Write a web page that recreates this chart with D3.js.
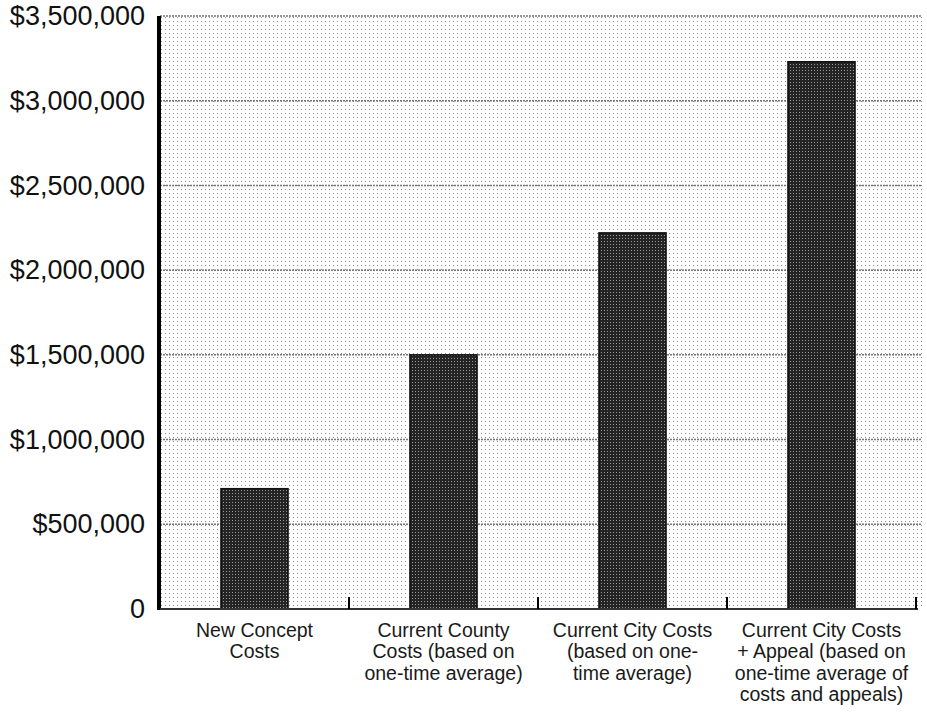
<!DOCTYPE html>
<html>
<head>
<meta charset="utf-8">
<script src="https://cdn.jsdelivr.net/npm/d3@7"></script>
<style>
    html, body { margin: 0; padding: 0; background: #fff; }
    svg { display: block; }
    .ylab { font-family: "Liberation Sans", Arial, sans-serif; font-size: 27px; fill: #111; }
    .xlab { font-family: "Liberation Sans", Arial, sans-serif; font-size: 19.5px; fill: #1a1a1a; }
</style>
</head>
<body>
<div id="chart"></div>
<script>
// Chart data
const categories = [
    'New Concept\nCosts',
    'Current County\nCosts (based on\none-time average)',
    'Current City Costs\n(based on one-\ntime average)',
    'Current City Costs\n+ Appeal (based on\none-time average of\ncosts and appeals)'
];
const costs = [710000, 1500000, 2220000, 3230000];
const yTicks = [0, 500000, 1000000, 1500000, 2000000, 2500000, 3000000, 3500000];
const yTickLabels = ['0', '$500,000', '$1,000,000', '$1,500,000', '$2,000,000', '$2,500,000', '$3,000,000', '$3,500,000'];

const width = 927;
const height = 717;
const plot = { left: 160, right: 916, top: 16, bottom: 609 };

const svg = d3.select('#chart').append('svg')
    .attr('width', width)
    .attr('height', height);

// halftone-ish screens for the scanned look
const defs = svg.append('defs');
const bgPat = defs.append('pattern')
    .attr('id', 'screen')
    .attr('patternUnits', 'userSpaceOnUse')
    .attr('width', 4).attr('height', 4);
bgPat.append('rect').attr('width', 4).attr('height', 4).attr('fill', '#fdfdfd');
bgPat.append('rect').attr('x', 1).attr('y', 1).attr('width', 1).attr('height', 1).attr('fill', '#8c8c8c');

const barPat = defs.append('pattern')
    .attr('id', 'barscreen')
    .attr('patternUnits', 'userSpaceOnUse')
    .attr('width', 3).attr('height', 3);
barPat.append('rect').attr('width', 3).attr('height', 3).attr('fill', '#242424');
barPat.append('rect').attr('x', 1).attr('y', 1).attr('width', 1).attr('height', 1).attr('fill', '#9a9a9a');

const x = d3.scaleBand()
    .domain(categories)
    .range([plot.left, plot.right])
    .paddingInner(0.645)
    .paddingOuter(0.3225);

const y = d3.scaleLinear()
    .domain([0, 3500000])
    .range([plot.bottom, plot.top]);

// plot background
svg.append('rect')
    .attr('x', plot.left)
    .attr('y', plot.top)
    .attr('width', plot.right + 6 - plot.left)
    .attr('height', plot.bottom - plot.top)
    .attr('fill', 'url(#screen)');

// gridlines
svg.append('g')
    .selectAll('line')
    .data(yTicks.slice(1))
    .enter().append('line')
    .attr('x1', plot.left)
    .attr('x2', plot.right + 6)
    .attr('y1', d => y(d))
    .attr('y2', d => y(d))
    .attr('stroke', '#777')
    .attr('stroke-width', 1.5)
    .attr('stroke-dasharray', '2,1');

// bars
svg.append('g')
    .selectAll('rect')
    .data(costs)
    .enter().append('rect')
    .attr('x', (d, i) => x(categories[i]))
    .attr('y', d => y(d))
    .attr('width', x.bandwidth())
    .attr('height', d => y(0) - y(d))
    .attr('fill', 'url(#barscreen)')
    .attr('stroke', '#111')
    .attr('stroke-width', 1.5);

// y axis labels
const yAxis = d3.axisLeft(y)
    .tickValues(yTicks)
    .tickFormat((d, i) => yTickLabels[i])
    .tickSize(0)
    .tickPadding(15);

const yg = svg.append('g')
    .attr('transform', `translate(${plot.left},0)`)
    .call(yAxis);
yg.select('.domain').remove();
yg.selectAll('text').attr('class', 'ylab').attr('font-size', null).attr('font-family', null);

// y axis line
svg.append('line')
    .attr('x1', plot.left - 1).attr('x2', plot.left - 1)
    .attr('y1', plot.top).attr('y2', plot.bottom + 1)
    .attr('stroke', '#000')
    .attr('stroke-width', 4);

// x axis line
svg.append('line')
    .attr('x1', plot.left).attr('x2', plot.right + 2)
    .attr('y1', plot.bottom).attr('y2', plot.bottom)
    .attr('stroke', '#333')
    .attr('stroke-width', 2);

// x ticks at band boundaries, pointing up
svg.append('g')
    .selectAll('line')
    .data(categories)
    .enter().append('line')
    .attr('x1', d => x(d) + x.bandwidth() / 2 + x.step() / 2)
    .attr('x2', d => x(d) + x.bandwidth() / 2 + x.step() / 2)
    .attr('y1', plot.bottom)
    .attr('y2', plot.bottom - 12)
    .attr('stroke', '#000')
    .attr('stroke-width', 2);

// category labels
const labels = svg.append('g')
    .selectAll('text')
    .data(categories)
    .enter().append('text')
    .attr('class', 'xlab')
    .attr('text-anchor', 'middle')
    .attr('x', d => x(d) + x.bandwidth() / 2)
    .attr('y', plot.bottom + 28);

labels.each(function(d) {
    const t = d3.select(this);
    d.split('\n').forEach((line, i) => {
        t.append('tspan')
            .attr('x', x(d) + x.bandwidth() / 2)
            .attr('dy', i === 0 ? 0 : 21.4)
            .text(line);
    });
});
</script>
</body>
</html>
